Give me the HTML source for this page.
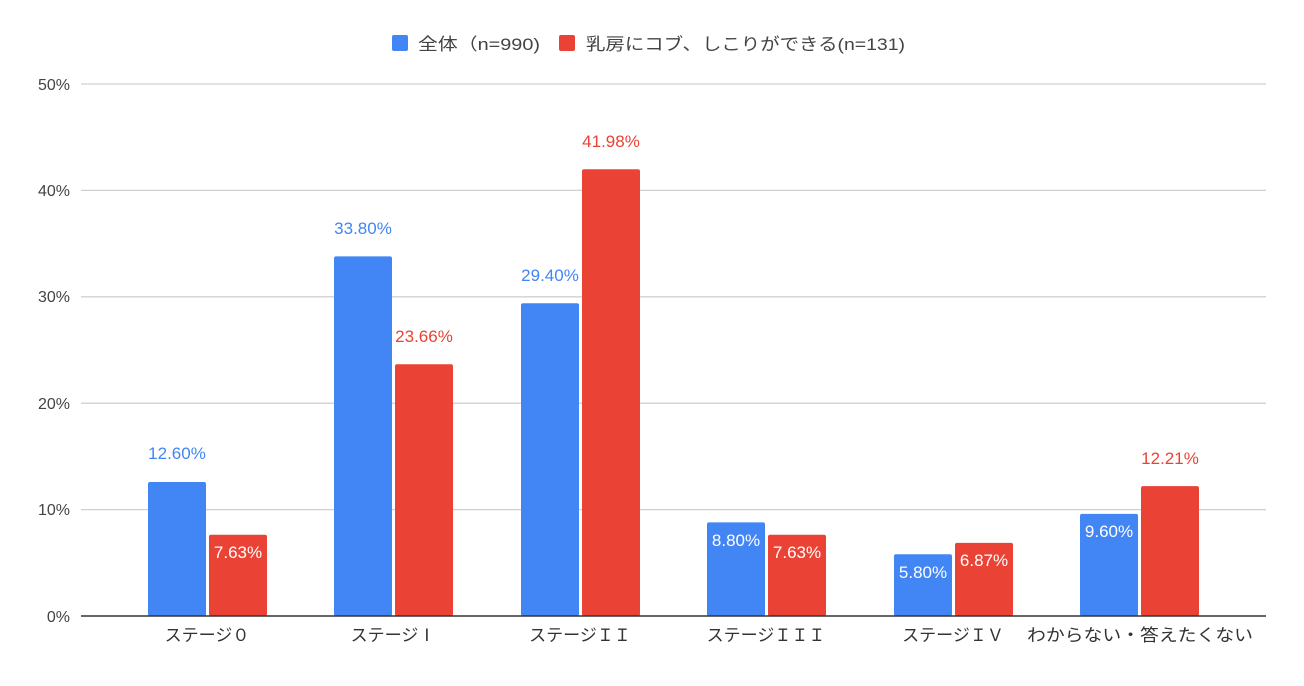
<!DOCTYPE html>
<html><head><meta charset="utf-8"><style>
html,body{margin:0;padding:0;background:#fff}
svg text{font-family:"Liberation Sans","Noto Sans CJK JP",sans-serif}
</style></head><body>
<svg width="1304" height="681" xmlns="http://www.w3.org/2000/svg">
<rect width="1304" height="681" fill="#fff"/>
<g stroke="#d0d0d0" stroke-width="1.3">
<line x1="81" x2="1266" y1="84" y2="84"/>
<line x1="81" x2="1266" y1="190.4" y2="190.4"/>
<line x1="81" x2="1266" y1="296.8" y2="296.8"/>
<line x1="81" x2="1266" y1="403.2" y2="403.2"/>
<line x1="81" x2="1266" y1="509.6" y2="509.6"/>
</g>
<g font-size="16" fill="#444" text-anchor="end">
<text x="70" y="90">50%</text><text x="70" y="196">40%</text><text x="70" y="302">30%</text>
<text x="70" y="409">20%</text><text x="70" y="515">10%</text><text x="70" y="622">0%</text>
</g>
<!-- legend -->
<rect x="392" y="35" width="16" height="16" rx="2" fill="#4285f4"/>
<text x="418" y="50" font-size="17" fill="#444" textLength="122" lengthAdjust="spacingAndGlyphs">全体（n=990)</text>
<rect x="559" y="35" width="16" height="16" rx="2" fill="#ea4335"/>
<text x="586" y="50" font-size="17" fill="#444" textLength="319" lengthAdjust="spacingAndGlyphs">乳房にコブ、しこりができる(n=131)</text>
<!-- bars -->
<g fill="#4285f4">
<rect x="148" y="482" width="58" height="134" rx="2"/>
<rect x="334" y="256.4" width="58" height="359.6" rx="2"/>
<rect x="521" y="303.2" width="58" height="312.8" rx="2"/>
<rect x="707" y="522.4" width="58" height="93.6" rx="2"/>
<rect x="894" y="554.3" width="58" height="61.7" rx="2"/>
<rect x="1080" y="513.9" width="58" height="102.1" rx="2"/>
</g>
<g fill="#ea4335">
<rect x="209" y="534.8" width="58" height="81.2" rx="2"/>
<rect x="395" y="364.3" width="58" height="251.7" rx="2"/>
<rect x="582" y="169.3" width="58" height="446.7" rx="2"/>
<rect x="768" y="534.8" width="58" height="81.2" rx="2"/>
<rect x="955" y="542.9" width="58" height="73.1" rx="2"/>
<rect x="1141" y="486.1" width="58" height="129.9" rx="2"/>
</g>
<line x1="81" x2="1266" y1="616" y2="616" stroke="#333" stroke-width="1.5"/>
<!-- value labels -->
<g font-size="17" text-anchor="middle">
<text x="177" y="459" fill="#4285f4">12.60%</text>
<text x="363" y="234" fill="#4285f4">33.80%</text>
<text x="550" y="281" fill="#4285f4">29.40%</text>
<text x="424" y="342" fill="#ea4335">23.66%</text>
<text x="611" y="147" fill="#ea4335">41.98%</text>
<text x="1170" y="464" fill="#ea4335">12.21%</text>
<g fill="#fff">
<text x="238" y="558">7.63%</text>
<text x="736" y="546">8.80%</text>
<text x="797" y="558">7.63%</text>
<text x="923" y="578">5.80%</text>
<text x="984" y="566">6.87%</text>
<text x="1109" y="537">9.60%</text>
</g>
</g>
<!-- category labels -->
<g font-size="17" fill="#333" text-anchor="middle">
<text x="207" y="641">ステージ０</text>
<text x="393" y="641">ステージⅠ</text>
<text x="580" y="641">ステージＩＩ</text>
<text x="766" y="641">ステージＩＩＩ</text>
<text x="953" y="641">ステージＩＶ</text>
<text x="1140" y="641" textLength="226" lengthAdjust="spacingAndGlyphs">わからない・答えたくない</text>
</g>
</svg>
</body></html>
